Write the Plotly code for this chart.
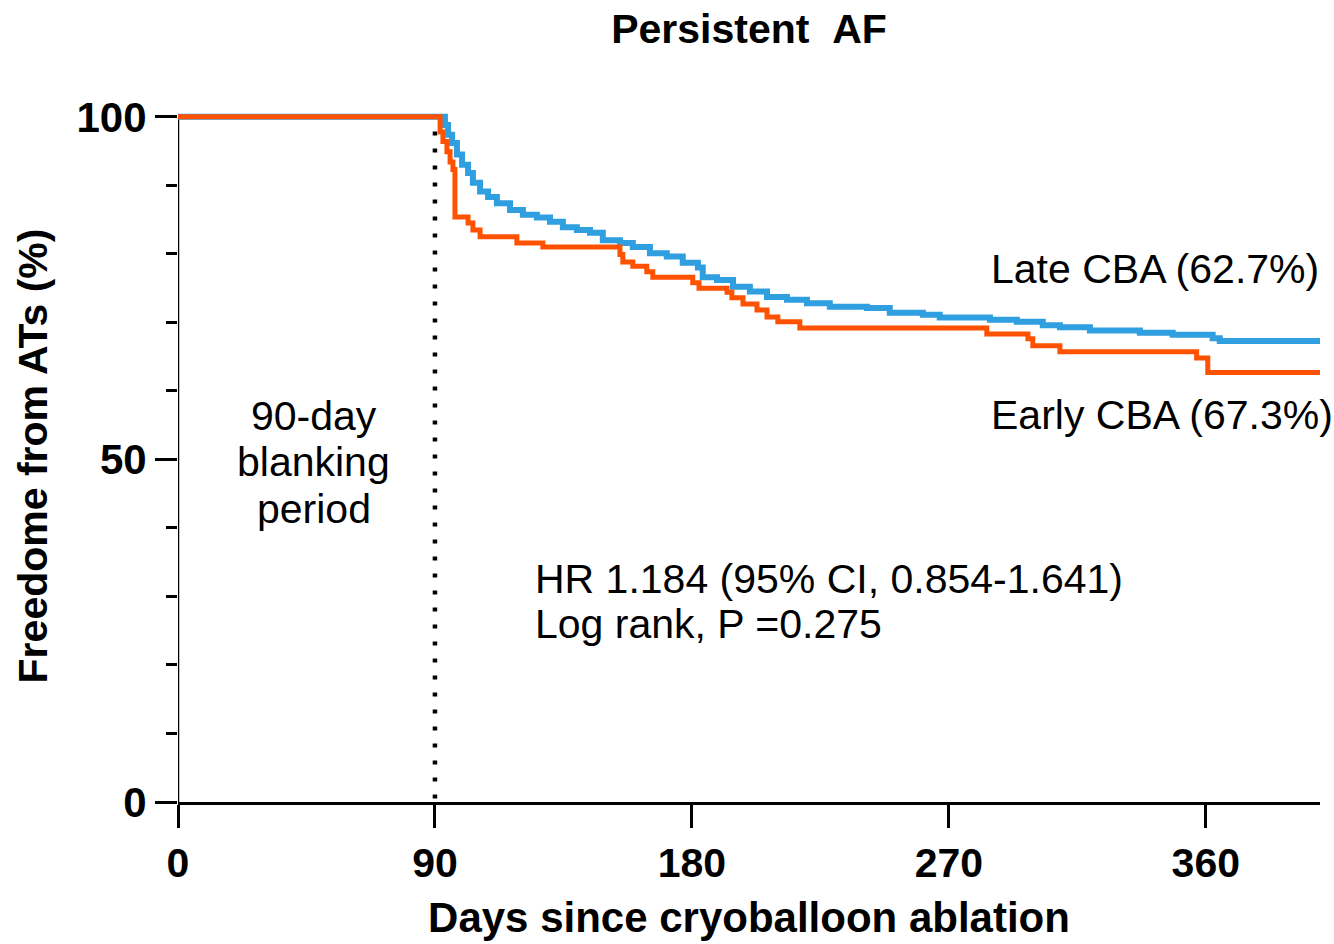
import plotly.graph_objects as go

# Kaplan-Meier step points (days since ablation, % free from ATs)
early_days = [0, 92.3, 93.5, 94.6, 96.0, 97.7, 99.5, 101.6, 103.3, 105.8, 108.6, 111.7,
              116.3, 120.8, 125.7, 130.3, 134.8, 139.7, 144.3, 148.8, 154.8, 159.3,
              165.3, 171.2, 176.8, 182.1, 183.8, 188.8, 194.4, 200.3, 206.3, 213.3,
              220.3, 228.3, 241.3, 249.3, 260.9, 266.8, 284.4, 293.8, 302.9, 308.9,
              319.4, 336.9, 348.4, 362.4, 364.9, 400]
early_surv = [100, 100, 98.8, 97.4, 96.2, 94.5, 93.0, 91.8, 90.4, 89.1, 88.3, 87.4,
              86.4, 85.7, 85.3, 84.7, 83.9, 83.5, 83.1, 82.0, 81.6, 81.0,
              80.1, 79.6, 78.7, 78.0, 76.6, 76.2, 75.2, 74.5, 73.7, 73.3,
              72.8, 72.3, 72.1, 71.4, 71.1, 70.7, 70.4, 70.1, 69.6, 69.3,
              68.8, 68.5, 68.2, 67.7, 67.3, 67.3]

late_days = [0, 91.8, 92.8, 94.2, 95.3, 96.3, 97.0, 101.6, 103.3, 105.8, 118.7, 127.8,
             154.8, 155.8, 159.3, 164.2, 166.3, 180.3, 182.5, 192.3, 194.0, 197.9,
             202.8, 206.3, 210.1, 217.8, 283.3, 297.7, 299.4, 308.9, 356.8, 360.7, 400]
late_surv = [100, 97.8, 96.4, 94.9, 93.4, 92.3, 85.4, 84.5, 83.5, 82.5, 81.6, 81.0,
             79.9, 78.8, 78.2, 77.4, 76.6, 75.8, 75.0, 74.4, 73.6, 72.7,
             71.8, 70.8, 70.1, 69.2, 68.3, 67.6, 66.6, 65.7, 64.8, 62.7, 62.7]

x_ticks = [0, 90, 180, 270, 360]
y_ticks = [0, 50, 100]
blanking_day = 90

BLUE = "#2F9FE0"
ORANGE = "#FF5200"
FONT = "Liberation Sans, Arial, Helvetica, sans-serif"

fig = go.Figure()
fig.add_trace(go.Scatter(x=early_days, y=early_surv, mode="lines", name="Early CBA",
                         line=dict(color=BLUE, width=6, shape="hv")))
fig.add_trace(go.Scatter(x=late_days, y=late_surv, mode="lines", name="Late CBA",
                         line=dict(color=ORANGE, width=5, shape="hv")))

# y axis line drawn only up to 100
fig.add_shape(type="line", xref="x", yref="y", x0=0, x1=0, y0=0, y1=100,
              line=dict(color="black", width=2.5), layer="below")
# end of blanking period
fig.add_shape(type="line", xref="x", yref="y", x0=blanking_day, x1=blanking_day,
              y0=0.5, y1=98, line=dict(color="black", width=4.5, dash="4px,13px"),
              layer="below")

ann_font = dict(family=FONT, size=41, color="black")
annotations = [
    dict(x=284.2, y=77.8, text="Late CBA (62.7%)", xanchor="left", yanchor="middle"),
    dict(x=284.2, y=56.5, text="Early CBA (67.3%)", xanchor="left", yanchor="middle"),
    dict(x=124.5, y=32.6, text="HR 1.184 (95% CI, 0.854-1.641)", xanchor="left", yanchor="middle"),
    dict(x=124.5, y=26.0, text="Log rank, P =0.275", xanchor="left", yanchor="middle"),
    dict(x=47.5, y=56.4, text="90-day", xanchor="center", yanchor="middle"),
    dict(x=47.5, y=49.6, text="blanking", xanchor="center", yanchor="middle"),
    dict(x=47.5, y=42.8, text="period", xanchor="center", yanchor="middle"),
]
for a in annotations:
    fig.add_annotation(xref="x", yref="y", showarrow=False, font=ann_font, **a)

fig.update_layout(
    width=1334, height=944,
    margin=dict(l=178, r=14, t=110, b=142),
    paper_bgcolor="white", plot_bgcolor="white",
    showlegend=False,
    title=dict(text="Persistent\u00a0\u00a0AF", x=0.5615, xanchor="center",
               y=0.970, yanchor="middle",
               font=dict(family=FONT, size=41, color="black", weight="bold")),
    xaxis=dict(range=[0, 400], tickvals=x_ticks, ticks="outside", ticklen=23,
               tickwidth=2.5, tickcolor="black", showline=True, linecolor="black",
               linewidth=2.5, showgrid=False, zeroline=False,
               tickfont=dict(family=FONT, size=41, color="black", weight="bold"),
               title=dict(text="Days since cryoballoon ablation", standoff=18,
                          font=dict(family=FONT, size=42, color="black", weight="bold"))),
    yaxis=dict(range=[0, 101], tickvals=y_ticks, ticks="outside", ticklen=22,
               tickwidth=2.5, tickcolor="black", showline=False,
               showgrid=False, zeroline=False,
               minor=dict(dtick=10, tick0=0, ticks="outside", ticklen=11,
                          tickwidth=2.5, tickcolor="black", showgrid=False),
               tickfont=dict(family=FONT, size=42, color="black", weight="bold"),
               title=dict(text="Freedome from ATs (%)", standoff=16,
                          font=dict(family=FONT, size=41, color="black", weight="bold"))),
)

fig.write_html("out.html")
